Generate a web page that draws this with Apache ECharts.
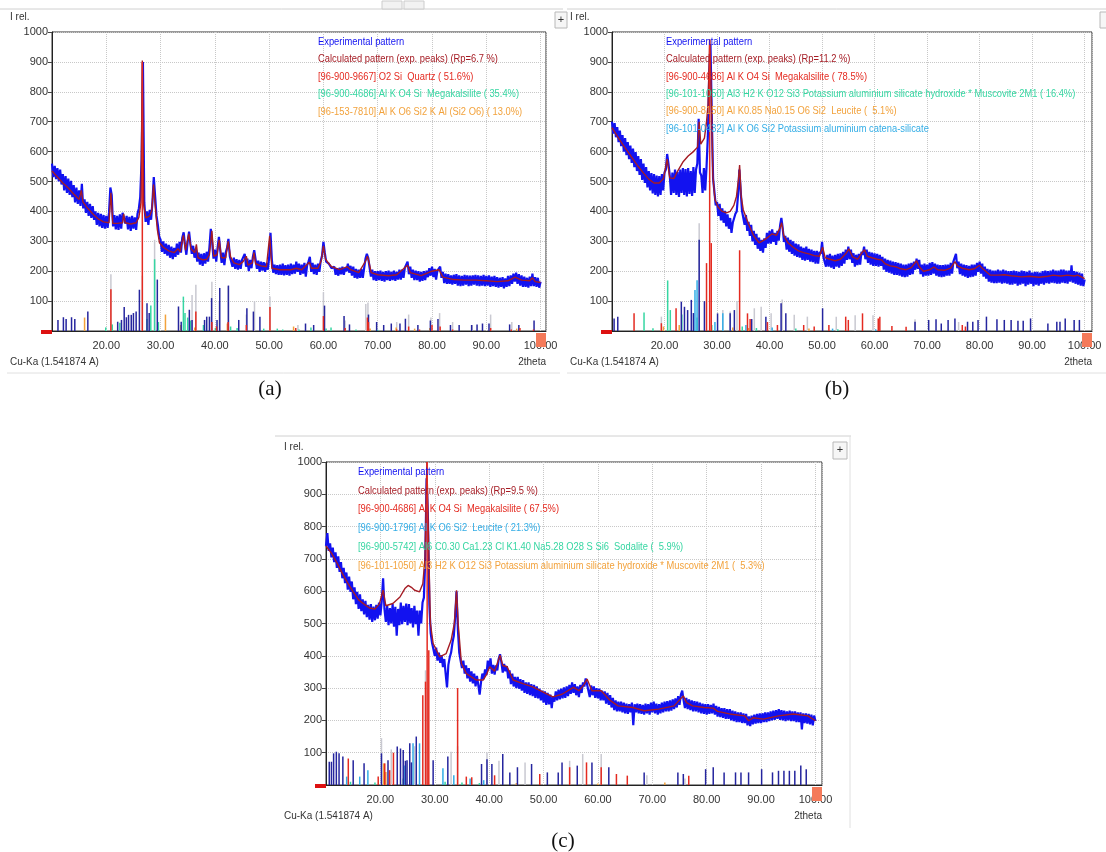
<!DOCTYPE html>
<html>
<head>
<meta charset="utf-8">
<script src="https://cdn.jsdelivr.net/npm/echarts@6/dist/echarts.min.js"></script>
<style>
html, body { margin: 0; padding: 0; background: #fff; }
#chart { width: 1106px; height: 852px; }
</style>
</head>
<body>
<div id="chart"></div>
<script>
// experimental patterns, one value every 0.25 deg from 10 to 100 (2theta)
const expStart = 10, expStep = 0.25;
const xTickValues = [20, 30, 40, 50, 60, 70, 80, 90, 100];

const expA = [
560,515,552,508,545,500,540,490, 525,470,518,462,510,455,502,448,
488,430,480,425,470,418,492,410, 440,395,432,385,425,378,418,372,
400,355,395,350,392,345,388,342, 385,345,395,480,455,350,388,340,
385,338,390,342,395,400,360,385, 340,382,335,385,342,380,338,392,
410,448,570,900,430,365,400,355, 405,372,430,515,450,385,355,315,
305,265,300,258,292,252,288,245, 282,240,278,248,292,255,298,262,
312,330,288,255,300,332,292,258, 285,245,275,232,262,222,258,218,
260,225,265,232,280,342,298,242, 272,232,278,315,270,228,262,220,
262,278,308,250,250,215,245,208, 240,205,238,208,238,232,258,215,
242,200,238,210,248,270,240,208, 235,198,232,202,230,198,228,205,
245,328,238,195,222,190,220,188, 222,188,225,186,220,188,222,185,
225,190,222,192,232,198,225,188, 222,192,228,182,220,232,248,198,
228,190,222,188,225,198,235,252, 298,262,232,238,225,220,210,205,
215,188,210,185,212,190,215,188, 210,200,225,195,218,185,215,178,
208,175,205,178,208,178,210,242, 258,245,212,182,205,170,200,168,
200,170,202,168,198,165,200,170, 202,168,198,170,202,168,198,172,
205,172,205,178,212,215,232,190, 215,178,205,170,202,170,200,165,
198,168,200,170,202,180,210,185, 215,180,208,172,202,205,215,178,
198,160,192,158,190,158,186,155, 188,158,190,152,186,150,184,152,
188,155,186,150,185,152,186,155, 188,152,186,150,184,152,188,150,
184,152,186,148,182,150,184,148, 180,145,178,148,180,143,176,148,
184,150,186,158,192,165,195,158, 190,152,186,148,182,148,178,145,
182,150,192,150,180,148,178,145, 165
];

const expB = [
700,660,695,648,682,632,670,618, 655,600,645,588,632,575,620,562,
610,548,598,535,585,522,575,505, 560,495,548,480,535,470,528,460,
525,455,520,450,518,455,525,470, 530,540,592,560,520,455,530,462,
540,455,532,448,540,462,545,455, 542,450,545,458,535,452,548,462,
540,560,710,530,520,462,545,470, 548,650,850,960,720,510,465,420,
432,385,425,370,410,362,402,350, 390,342,378,328,362,365,392,400,
455,540,470,402,400,355,388,335, 365,318,355,300,335,288,325,275,
312,268,305,262,310,278,328,292, 335,292,340,298,328,288,335,302,
352,378,345,298,318,272,312,265, 305,258,300,252,292,248,290,245,
282,238,278,235,282,238,275,232, 272,230,268,225,268,225,265,258,
298,248,248,215,255,215,258,212, 252,208,255,215,258,212,260,218,
265,225,272,238,282,240,272,228, 260,215,255,220,258,222,265,255,
282,240,272,228,265,222,262,218, 260,218,258,215,255,218,248,205,
242,198,238,195,235,192,232,188, 230,188,228,185,225,182,222,180,
222,182,225,188,228,190,232,205, 242,208,238,190,222,182,225,185,
222,185,228,188,230,192,225,185, 222,182,220,180,220,182,222,185,
222,185,228,192,232,228,258,210, 232,190,225,185,222,182,220,178,
218,180,222,182,222,185,228,198, 232,192,225,182,215,175,208,165,
205,162,202,160,202,160,205,162, 202,158,205,160,202,158,200,155,
200,155,202,158,200,152,198,155, 202,158,200,150,198,155,202,158,
195,150,198,155,198,152,195,158, 200,155,202,160,200,158,202,162,
205,160,202,158,202,158,205,162, 205,160,202,158,202,165,220,162,
200,158,198,155,195,152,192,150, 172
];

const expC = [
740,780,725,748,705,735,690,720, 672,708,660,690,640,672,625,658,
605,645,598,630,575,612,560,598, 545,590,538,575,528,570,520,558,
512,560,505,552,510,558,515,565, 525,570,640,545,505,555,495,548,
500,560,490,552,462,545,495,565, 498,555,505,562,495,560,500,548,
488,555,498,540,462,540,500,565, 580,700,950,820,560,470,440,420,
400,425,385,410,378,402,365,390, 345,302,372,395,410,440,462,520,
600,482,410,385,362,385,345,370, 330,362,320,352,315,345,305,338,
310,280,318,345,328,358,340,385, 360,392,345,372,342,370,355,390,
405,380,348,375,352,368,330,355, 312,345,305,335,300,335,298,328,
292,325,285,318,282,318,278,312, 275,310,270,305,268,298,262,292,
255,290,248,285,250,280,238,275, 258,290,262,295,265,298,268,302,
270,305,275,310,282,318,285,312, 278,305,272,310,285,318,305,330,
312,292,272,308,278,305,270,300, 268,298,262,292,262,290,252,285,
248,278,240,270,232,262,228,258, 228,258,225,255,222,252,220,250,
225,255,185,250,225,252,222,250, 220,248,218,252,222,250,218,255,
225,258,222,252,218,250,222,255, 225,258,228,260,228,262,230,265,
235,268,240,275,248,280,292,262, 238,270,235,265,232,262,228,260,
228,258,225,255,222,252,220,250, 218,250,220,248,222,252,218,245,
212,242,210,238,208,238,205,235, 205,235,200,230,198,228,195,225,
195,225,192,222,192,220,185,212, 182,215,188,218,190,220,192,222,
192,222,195,225,195,225,198,228, 200,230,202,232,205,235,202,232,
200,230,198,228,200,230,198,228, 198,228,195,225,195,225,172,222,
192,222,190,220,188,218,185,215, 198
];

// calculated patterns, [2theta, I]
const calcA = [[10,535],[11,515],[12,495],[13,478],[14,458],[15,440],[15.4,470],[15.7,432],[16.5,412],[17.5,392],[18.5,375],[19.5,365],[20.5,362],[20.85,462],[21.2,360],[22,360],[23,362],[23.2,392],[23.5,362],[24.5,358],[25.5,362],[26,380],[26.4,430],[26.64,905],[26.9,420],[27.3,378],[28,385],[28.4,405],[28.7,490],[29,420],[29.4,340],[29.8,295],[30.5,280],[31.5,268],[32.5,262],[33.2,275],[33.6,265],[34.2,320],[34.6,270],[35.2,325],[35.6,275],[36.3,262],[36.6,290],[36.9,245],[37.8,238],[38.5,240],[39,255],[39.45,335],[39.8,250],[40.4,255],[40.8,305],[41.2,245],[42,245],[42.45,300],[42.9,248],[43.5,228],[44.5,222],[45.2,232],[45.8,250],[46.1,220],[46.9,228],[47.2,262],[47.5,225],[48.5,218],[49.5,215],[50.1,318],[50.5,210],[52,205],[54,205],[55,210],[56,205],[57.4,230],[57.8,210],[59,210],[59.6,235],[60,285],[60.4,240],[60.8,230],[61.5,215],[63,205],[64.4,215],[65,205],[66.5,195],[67.8,235],[68.1,250],[68.4,230],[68.8,195],[70,188],[72,185],[73.5,188],[75.5,220],[76,195],[78,185],[80,200],[81.3,205],[82,180],[84,172],[86,170],[88,170],[90,168],[92,165],[94,168],[95.3,180],[96.5,170],[98,168],[98.5,178],[99,165],[100,162]];

const calcB = [[10,680],[11,652],[12,625],[13,600],[14,575],[15,550],[16,528],[17,508],[18,495],[19,495],[19.8,510],[20.5,575],[21,512],[21.8,510],[22.5,535],[23.5,565],[24.5,585],[25.5,600],[26.3,615],[26.6,700],[26.9,625],[27.6,645],[28,700],[28.3,760],[28.6,975],[28.9,800],[29.2,520],[29.6,440],[30.2,415],[31,400],[31.8,395],[32.5,400],[33.2,420],[33.7,450],[34.1,510],[34.3,555],[34.6,450],[35,405],[36,358],[37,318],[38,295],[39,305],[39.8,315],[40.5,325],[41.3,320],[42,345],[42.3,362],[42.7,320],[43.5,295],[44.5,280],[45.5,268],[46.5,262],[47.5,258],[48.5,252],[49.5,250],[50.1,280],[50.6,245],[51.5,240],[52.5,235],[53.5,240],[54.5,258],[55.1,275],[55.8,248],[56.8,240],[57.6,262],[58.1,272],[58.6,250],[59.5,245],[60.5,240],[61.3,238],[62,225],[63,218],[64,215],[65,208],[66,205],[67,212],[68,235],[68.5,215],[69.3,200],[70.5,205],[71.3,214],[72,205],[73.3,203],[74.5,210],[75.3,232],[75.8,218],[76.7,210],[78,205],[79,208],[80,220],[80.5,210],[82,187],[83.5,187],[84.7,188],[86,185],[88,181],[89.5,183],[91.3,180],[93,183],[94,187],[95.5,184],[96.7,187],[98,184],[98.7,187],[100,175]];

const calcC = [[10,740],[11,718],[12,688],[13,655],[14,625],[15,598],[16,573],[17,560],[18,548],[19,545],[19.8,560],[20.5,603],[21,555],[22.3,562],[23.6,582],[24.5,608],[25.1,618],[25.7,612],[26.3,603],[27.2,598],[27.8,623],[28.2,700],[28.55,1000],[28.9,720],[29.2,500],[29.7,438],[30.9,397],[32.1,407],[33,448],[33.6,500],[34,603],[34.3,500],[34.9,376],[35.8,345],[37.6,325],[38.9,325],[39.6,345],[40.1,366],[41,352],[42,402],[42.5,370],[43.3,366],[44.4,325],[46.2,314],[48,304],[50.5,283],[51.7,273],[53.4,281],[55.5,302],[56.5,292],[57.4,310],[58,328],[58.9,292],[60.6,292],[62.3,261],[63.7,245],[66.4,240],[68.5,230],[71.2,235],[74,245],[75.7,276],[76.3,255],[77.4,245],[79.5,240],[81.2,238],[82,228],[84.2,220],[87,214],[87.7,199],[88.5,208],[90.4,204],[93.2,214],[95.9,220],[98.6,214],[100,199]];

// peak sticks, [2theta, I]
const peaksA = [[11.1,37],[12.1,46],[12.6,40],[13.6,46],[14.2,40],[16.6,65],[22.1,31],[22.8,37],[23.3,80],[23.7,46],[24.1,54],[24.6,54],[25,60],[25.5,65],[26.1,138],[27.5,93],[27.9,60],[29.4,172],[33.3,82],[33.8,31],[35.3,71],[35.8,37],[38.1,37],[38.5,48],[39,48],[39.4,110],[40.4,37],[40.9,144],[42.5,152],[44.4,37],[45.9,76],[47.1,65],[48.3,48],[56.7,25],[58.2,20],[60.2,85],[63.8,50],[64.8,22],[68.3,55],[69.8,30],[71.1,20],[72.5,25],[74.1,25],[75.1,41],[77.4,20],[79.7,35],[81.1,40],[83.4,20],[85,20],[87.3,20],[88.3,22],[89.3,25],[90.5,25],[94.3,22],[96,20],[98.8,35]];
const greyA = [[20.85,190],[26.64,185],[28.9,305],[35.8,120],[36.5,155],[39.45,165],[40.8,100],[42.45,150],[45.8,55],[47.3,100],[50.15,115],[55.3,20],[60,130],[64,35],[67.8,90],[68.2,95],[73.5,30],[75.7,55],[79.8,45],[81.4,60],[83.8,30],[87.4,20],[90.8,55],[94.7,30]];
const quartzA = [[20.85,140],[26.64,900],[36.5,65],[39.45,30],[40.3,15],[42.45,30],[45.8,20],[50.15,80],[54.9,10],[60,50],[64,10],[68.1,45],[68.3,30],[73.5,5],[75.7,15],[77.7,5],[80,20],[81.5,15],[83.8,5],[90.8,10],[94.6,5],[96.2,10],[98.7,5]];
const megaA = [[19.9,12],[21.1,22],[22.5,28],[27.5,40],[28.2,85],[28.9,240],[29.6,30],[34.2,115],[34.5,60],[35,45],[35.5,35],[37.9,20],[40.1,10],[42.9,15],[44.1,10],[49,8],[51.5,8],[52.5,5],[55.5,5],[57.7,12],[60.5,8],[61.4,12],[66,5],[70,4]];
const kalA = [[16,45],[30.9,55],[33.7,20],[36.3,12],[42.3,25],[54.5,15],[68.6,8],[73.4,12],[76.8,8],[79.6,10],[95.6,8]];

const peaksB = [[10.4,42],[11.1,48],[23.2,98],[23.8,81],[24.4,70],[25.1,104],[25.5,60],[26.6,305],[27.6,100],[30.1,59],[32.5,59],[33.3,70],[36.6,40],[39.3,48],[42.2,93],[43.1,59],[50.1,76],[67.7,31],[70.3,37],[71.7,39],[72.7,25],[74,37],[75.3,42],[77.7,31],[78.7,31],[79.7,37],[81.3,48],[83.3,39],[84.7,37],[86,37],[87.3,34],[88.3,34],[89.7,42],[93,25],[94.7,31],[95.3,31],[96.3,42],[98,37],[99,37]];
const greyB = [[19.4,48],[26.6,360],[31.1,70],[32.5,65],[33.8,100],[37.1,76],[38.4,81],[40.3,59],[42.4,105],[44.7,54],[47.2,48],[52.7,48],[56.3,53],[59.7,53],[67.7,39],[76,30]];
const megaB = [[14.2,59],[19.4,26],[22.2,76],[28,227],[28.6,975],[28.9,294],[34.3,270],[35.8,59],[36.3,40],[39.6,30],[41.5,20],[46.5,20],[48.5,15],[51.3,20],[54.5,48],[55,37],[57.7,59],[60.7,42],[61,48],[63.3,17],[66,14],[76.7,20],[77.3,15]];
const muscB = [[16.1,62],[17.8,9],[20.6,169],[21.1,70],[23.3,55],[26.2,45],[29,20],[34.8,15],[37.5,10],[45,8],[53,6]];
const leucB = [[19.8,15],[22.8,20],[33,12],[36,10],[47.5,8]];
const catenaB = [[25.8,137],[26.2,170],[29.6,30],[31.1,59],[35.5,20],[40.5,12],[52,8],[60.2,6]];

const peaksC = [[10.6,72],[11,72],[11.4,98],[11.9,103],[12.4,98],[13.1,88],[15,77],[17,67],[20.2,98],[21.4,77],[23.1,119],[23.7,113],[24.2,108],[24.6,75],[24.9,77],[25.4,129],[25.7,70],[26.6,150],[29.7,77],[32.4,88],[38.6,65],[39.6,80],[40.5,65],[42.5,96],[43.8,39],[45.2,55],[47.8,65],[50.7,39],[52.7,39],[53.4,70],[56.2,60],[58.9,70],[62,55],[68.5,39],[74.7,39],[75.7,34],[79.8,49],[81.2,55],[83.2,39],[85.3,39],[86.3,39],[87.7,39],[90.1,49],[92.1,39],[93.2,44],[94.2,44],[95.2,44],[96.2,44],[97.3,60],[98.3,49]];
const greyC = [[20.2,145],[22,110],[26.3,120],[28.3,355],[33,103],[34.2,120],[39.6,101],[41.8,75],[46.6,70],[54.8,75],[57.2,96],[60.6,96],[69,30],[76,20]];
const megaC = [[14.1,82],[19.6,26],[20.8,67],[21.7,46],[22.4,100],[27.8,278],[28.3,320],[28.6,1000],[28.9,417],[34.2,300],[35.8,26],[36.8,24],[41,30],[49.3,34],[54.8,55],[57.9,70],[60.6,55],[63.4,34],[65.4,29],[76.7,29]];
const leucC = [[13.8,26],[16.2,26],[17.7,46],[24.5,60],[26,129],[27.2,129],[31.5,52],[33.5,30],[36.5,20],[39,15]];
const sodaC = [[14.5,10],[19,8],[24.2,20],[31.9,10],[35,8],[38.2,6]];
const muscC = [[20.6,67],[21,40],[45,6],[60,5],[72.3,8]];

const legendA = ['Experimental pattern', 'Calculated pattern (exp. peaks) (Rp=6.7 %)', '[96-900-9667] O2 Si  Quartz ( 51.6%)', '[96-900-4686] Al K O4 Si  Megakalsilite ( 35.4%)', '[96-153-7810] Al K O6 Si2 K Al (Si2 O6) ( 13.0%)'];
const legendB = ['Experimental pattern', 'Calculated pattern (exp. peaks) (Rp=11.2 %)', '[96-900-4686] Al K O4 Si  Megakalsilite ( 78.5%)', '[96-101-1050] Al3 H2 K O12 Si3 Potassium aluminium silicate hydroxide * Muscovite 2M1 ( 16.4%)', '[96-900-8150] Al K0.85 Na0.15 O6 Si2  Leucite (  5.1%)', '[96-101-0432] Al K O6 Si2 Potassium aluminium catena-silicate'];
const legendC = ['Experimental pattern', 'Calculated pattern (exp. peaks) (Rp=9.5 %)', '[96-900-4686] Al K O4 Si  Megakalsilite ( 67.5%)', '[96-900-1796] Al K O6 Si2  Leucite ( 21.3%)', '[96-900-5742] Al6 C0.30 Ca1.23 Cl K1.40 Na5.28 O28 S Si6  Sodalite (  5.9%)', '[96-101-1050] Al3 H2 K O12 Si3 Potassium aluminium silicate hydroxide * Muscovite 2M1 (  5.3%)'];

const col = { exp: '#1212f0', calc: '#a51c24', red: '#e42a20', teal: '#36d6a2', orange: '#f2a23c', light: '#33ade6', navy: '#25259e', grey: '#c9c9d1' };

const panels = [
  { grid: { left: 52, top: 32, width: 494, height: 299 }, xMax: 101, exp: expA, calc: calcA,
    sticks: [[greyA, col.grey], [kalA, col.orange], [megaA, col.teal], [peaksA, col.navy], [quartzA, col.red]],
    legend: legendA, legendColors: [col.exp, col.calc, col.red, col.teal, col.orange], legendX: 318, legendY: 42, legendGap: 17.5 },
  { grid: { left: 612, top: 32, width: 480, height: 299 }, xMax: 101.4, exp: expB, calc: calcB,
    sticks: [[greyB, col.grey], [leucB, col.orange], [muscB, col.teal], [catenaB, col.light], [peaksB, col.navy], [megaB, col.red]],
    legend: legendB, legendColors: [col.exp, col.calc, col.red, col.teal, col.orange, col.light], legendX: 666, legendY: 42, legendGap: 17.4 },
  { grid: { left: 326, top: 462, width: 496, height: 323 }, xMax: 101.2, exp: expC, calc: calcC,
    sticks: [[greyC, col.grey], [muscC, col.orange], [sodaC, col.teal], [leucC, col.light], [peaksC, col.navy], [megaC, col.red]],
    legend: legendC, legendColors: [col.exp, col.calc, col.red, col.light, col.teal, col.orange], legendX: 358, legendY: 472, legendGap: 18.8 }
];

function toPairs(arr) {
  return arr.map(function (v, i) { return [expStart + i * expStep, v]; });
}

function stickSeries(idx, data, color) {
  return {
    type: 'custom', xAxisIndex: idx, yAxisIndex: idx, data: data, encode: { x: 0, y: 1 },
    z: 4, silent: true, clip: true,
    renderItem: function (params, api) {
      const top = api.coord([api.value(0), api.value(1)]);
      const base = api.coord([api.value(0), 0]);
      return { type: 'line', shape: { x1: top[0], y1: top[1], x2: base[0], y2: base[1] },
               style: { stroke: color, lineWidth: 1.5 } };
    }
  };
}

function txt(x, y, text, font, color, align, sx) {
  return { type: 'text', x: x, y: y, z: 100, silent: true, scaleX: sx || 1,
           style: { text: text, font: font, fill: color, align: align || 'left', verticalAlign: 'middle' } };
}
function ln(x1, y1, x2, y2, color) {
  return { type: 'line', z: 90, silent: true, shape: { x1: x1, y1: y1, x2: x2, y2: y2 }, style: { stroke: color, lineWidth: 1 } };
}
function box(x, y, w, h, fill, stroke) {
  return { type: 'rect', z: 95, silent: true, shape: { x: x, y: y, width: w, height: h },
           style: { fill: fill, stroke: stroke || null, lineWidth: 1 } };
}

const smallFont = '10px "Liberation Sans", Arial, sans-serif';
const legendFont = '10.5px "Liberation Sans", Arial, sans-serif';
const tickFont = 'Liberation Sans';

const grids = [], xAxes = [], yAxes = [], series = [], graphics = [];
panels.forEach(function (p, i) {
  grids.push(Object.assign({ show: true, borderColor: '#333', borderWidth: 1, backgroundColor: '#fff', containLabel: false, outerBoundsMode: 'none' }, p.grid));
  xAxes.push({
    type: 'value', gridIndex: i, min: 10, max: p.xMax, interval: 10,
    axisLine: { show: true, onZero: false, lineStyle: { color: '#222' } },
    axisTick: { show: false },
    axisLabel: { margin: 9, color: '#333', fontFamily: tickFont, fontSize: 11,
      formatter: function (v) { return xTickValues.indexOf(v) >= 0 ? v.toFixed(2) : ''; } },
    splitLine: { show: true, lineStyle: { type: 'dotted', color: '#c8c8c8' } }
  });
  yAxes.push({
    type: 'value', gridIndex: i, min: 0, max: 1000, interval: 100,
    axisLine: { show: true, lineStyle: { color: '#222' } },
    axisTick: { show: true, length: 4, lineStyle: { color: '#444' } },
    axisLabel: { margin: 4, color: '#333', fontFamily: tickFont, fontSize: 11,
      formatter: function (v) { return v === 0 ? '' : String(v); } },
    splitLine: { show: true, lineStyle: { type: 'dotted', color: '#c8c8c8' } }
  });
  series.push({ type: 'line', xAxisIndex: i, yAxisIndex: i, data: toPairs(p.exp), symbol: 'none', showSymbol: false,
    silent: true, z: 2, lineStyle: { color: col.exp, width: 2.2 } });
  series.push({ type: 'line', xAxisIndex: i, yAxisIndex: i, data: p.calc, symbol: 'none', showSymbol: false,
    silent: true, z: 3, lineStyle: { color: col.calc, width: 1.4 } });
  p.sticks.forEach(function (s) { series.push(stickSeries(i, s[0], s[1])); });
  p.legend.forEach(function (t, k) {
    graphics.push(txt(p.legendX, p.legendY + k * p.legendGap, t, legendFont, p.legendColors[k], 'left', 0.89));
  });
  const g = p.grid;
  const right = g.left + g.width, bottom = g.top + g.height;
  // red start marker and orange end handle of the software window
  graphics.push(box(g.left - 11, bottom - 1, 11, 4, '#dd1111'));
  graphics.push(box(right - 10, bottom + 2, 10, 14, '#f47a5a'));
  graphics.push(txt(g.left - 42, g.top - 15, 'I rel.', smallFont, '#333'));
  graphics.push(txt(g.left - 42, bottom + 31, 'Cu-Ka (1.541874 A)', smallFont, '#333'));
  graphics.push(txt(right, bottom + 31, '2theta', smallFont, '#333', 'right'));
});

// window frames and captions
graphics.push(ln(0, 9, 563, 9, '#d0d0d0'), ln(567, 9, 1106, 9, '#d0d0d0'));
graphics.push(box(382, 1, 20, 8, '#f2f2f2', '#cccccc'), box(404, 1, 20, 8, '#f2f2f2', '#cccccc'));
graphics.push(ln(7, 373, 560, 373, '#e0e0e0'), ln(567, 373, 1106, 373, '#e0e0e0'));
graphics.push(box(555, 12, 12, 16, '#f6f6f6', '#b8b8b8'), txt(561, 20, '+', '11px "Liberation Sans"', '#333', 'center'));
graphics.push(box(1100, 12, 12, 16, '#f6f6f6', '#b8b8b8'));
graphics.push(ln(275, 436, 851, 436, '#d0d0d0'), ln(850, 436, 850, 828, '#e0e0e0'));
graphics.push(box(833, 442, 14, 17, '#f6f6f6', '#b8b8b8'), txt(840, 450, '+', '11px "Liberation Sans"', '#333', 'center'));
const capFont = '21px "Liberation Serif", "Times New Roman", serif';
graphics.push(txt(270, 389, '(a)', capFont, '#111', 'center'));
graphics.push(txt(837, 389, '(b)', capFont, '#111', 'center'));
graphics.push(txt(563, 841, '(c)', capFont, '#111', 'center'));

const chart = echarts.init(document.getElementById('chart'), null, { renderer: 'canvas' });
chart.setOption({
  backgroundColor: '#fff',
  animation: false,
  grid: grids,
  xAxis: xAxes,
  yAxis: yAxes,
  series: series,
  graphic: { elements: graphics }
});
</script>
</body>
</html>
